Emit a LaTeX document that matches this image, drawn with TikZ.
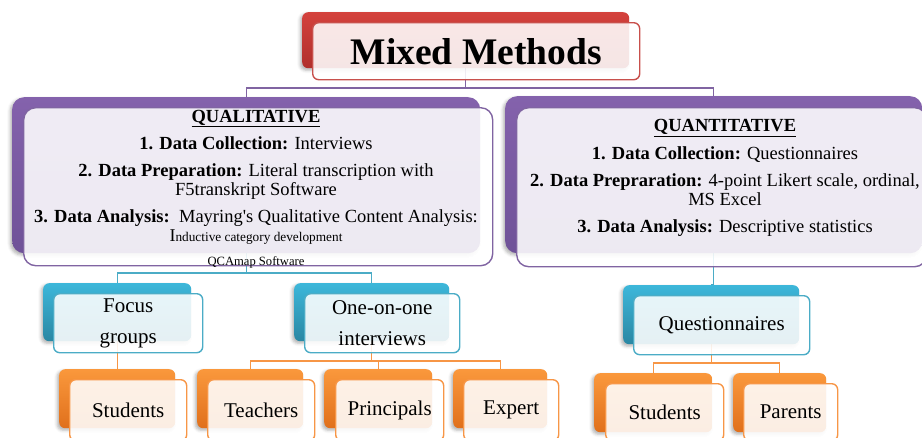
\documentclass[tikz,border=0pt]{standalone}
\usepackage{fontspec}
\setmainfont{Liberation Serif}
\usetikzlibrary{shadows.blur,backgrounds}

\definecolor{mmred}{HTML}{D4423D}
\definecolor{mmreddark}{HTML}{B0302C}
\definecolor{mmredline}{HTML}{C8504C}
\definecolor{grpurple}{HTML}{8462AC}
\definecolor{grpurpledark}{HTML}{6F5298}
\definecolor{grpurpleline}{HTML}{8064A2}
\definecolor{grcyan}{HTML}{3DB7DA}
\definecolor{grcyandark}{HTML}{2A87A3}
\definecolor{grcyanline}{HTML}{4BACC6}
\definecolor{grorange}{HTML}{FA983C}
\definecolor{grorangedark}{HTML}{E0701C}
\definecolor{grorangeline}{HTML}{F79646}

\tikzset{
  boxback/.style={anchor=north west, inner sep=0pt, rounded corners=6pt,
    blur shadow={shadow xshift=-2pt,shadow yshift=-2pt,shadow blur radius=3pt,shadow opacity=30}},
  boxfront/.style={anchor=north west, inner sep=0pt, rounded corners=6pt,
    fill=white, fill opacity=0.88, text opacity=1, line width=1.4pt, align=center},
  redback/.style={boxback, top color=mmred, bottom color=mmreddark},
  redfront/.style={boxfront, draw=mmredline},
  purpleback/.style={boxback, rounded corners=12pt, top color=grpurple, bottom color=grpurpledark},
  purplefront/.style={boxfront, rounded corners=12pt, draw=grpurpleline},
  cyanback/.style={boxback, top color=grcyan, bottom color=grcyandark},
  cyanfront/.style={boxfront, draw=grcyanline, font=\fontsize{21}{31}\selectfont},
  orangeback/.style={boxback, top color=grorange, bottom color=grorangedark},
  orangefront/.style={boxfront, draw=grorangeline, font=\fontsize{21}{31}\selectfont},
  bodytext/.style={align=center, inner sep=0pt, font=\fontsize{18.5}{19}\selectfont},
  link/.style={line width=1.4pt}
}

\begin{document}
\begin{tikzpicture}[x=1pt, y=-1pt]
  \useasboundingbox (0,0) rectangle (922,437);

  % top box
  \node[redback, minimum width=327pt, minimum height=56pt] (mmb) at (302,12) {};
  \node[redfront, minimum width=327pt, minimum height=57pt] (mm) at (312,22)
    {\fontsize{37.5}{40}\selectfont\bfseries Mixed Methods};

  % the two strands
  \node[purpleback, minimum width=468pt, minimum height=156pt] (qualb) at (12,97) {};
  \node[purplefront, minimum width=469pt, minimum height=158pt] (qual) at (23,107) {};
  \node[purpleback, minimum width=417pt, minimum height=157pt] (quantb) at (505,96) {};
  \node[purplefront, minimum width=410pt, minimum height=159pt] (quant) at (516,107) {};

  \node[bodytext] (qualtext) at (256,189) {\underline{\textbf{QUALITATIVE}}\\[8pt]
    \textbf{1. Data Collection:} Interviews\\[8pt]
    \textbf{2. Data Preparation:} Literal transcription with\\
    F5transkript Software\\[8pt]
    \textbf{3. Data Analysis:}\ \ Mayring\textquotesingle s Qualitative Content Analysis:\\
    {\fontsize{18}{19}\selectfont I}{\fontsize{13.3}{19}\selectfont nductive category development}\\[5pt]
    {\fontsize{12.6}{14}\selectfont QCAmap Software}};
  \node[bodytext] (quanttext) at (725,178) {\underline{\textbf{QUANTITATIVE}}\\[9pt]
    \textbf{1. Data Collection:} Questionnaires\\[8pt]
    \textbf{2. Data Prepraration:} 4-point Likert scale, ordinal,\\
    MS Excel\\[8pt]
    \textbf{3. Data Analysis:} Descriptive statistics};

  % data sources
  \node[cyanback, minimum width=148pt, minimum height=58pt] (focusb) at (43,283) {};
  \node[cyanfront, minimum width=149pt, minimum height=59pt] (focus) at (53,293) {Focus\\groups};
  \node[cyanback, minimum width=155pt, minimum height=58pt] (oneb) at (294,283) {};
  \node[cyanfront, minimum width=155pt, minimum height=59pt] (one) at (304,293) {One-on-one\\interviews};
  \node[cyanback, minimum width=176pt, minimum height=59pt] (questb) at (623,285) {};
  \node[cyanfront, minimum width=176pt, minimum height=59pt] (quest) at (633,295) {Questionnaires};

  % participants
  \node[orangeback, minimum width=116pt, minimum height=59pt] (stuab) at (59,369) {};
  \node[orangefront, minimum width=117pt, minimum height=61pt] (stua) at (69,379) {Students};
  \node[orangeback, minimum width=106pt, minimum height=59pt] (teachb) at (197,369) {};
  \node[orangefront, minimum width=107pt, minimum height=61pt] (teach) at (207,379) {Teachers};
  \node[orangeback, minimum width=108pt, minimum height=59pt] (princb) at (324,369) {};
  \node[orangefront, minimum width=108pt, minimum height=61pt] (princ) at (335,379) {Principals};
  \node[orangeback, minimum width=94pt, minimum height=59pt] (expb) at (453,369) {};
  \node[orangefront, minimum width=95pt, minimum height=61pt] (exp) at (463,379) {Expert};
  \node[orangeback, minimum width=118pt, minimum height=59pt] (stubb) at (594,373) {};
  \node[orangefront, minimum width=118pt, minimum height=57pt] (stub) at (605,383) {Students};
  \node[orangeback, minimum width=93pt, minimum height=59pt] (parb) at (733,373) {};
  \node[orangefront, minimum width=94pt, minimum height=57pt] (par) at (743,383) {Parents};

  % connectors
  \coordinate (mmbus) at (0,88);
  \coordinate (qualbus) at (0,273);
  \coordinate (onebus) at (0,361);
  \coordinate (questbus) at (0,363);
  \begin{scope}[on background layer]
    \draw[link, grpurpleline] (mmb.center) -- (mmb.center |- mmbus);
    \draw[link, grpurpleline] (qualb.north) -- (qualb.north |- mmbus)
      -- (quantb.north |- mmbus) -- (quantb.north);
    \draw[link, grcyanline] (qualb.center) -- (qualb.center |- qualbus);
    \draw[link, grcyanline] (focusb.north) -- (focusb.north |- qualbus)
      -- (oneb.north |- qualbus) -- (oneb.north);
    \draw[link, grcyanline] (quantb.center) -- (quantb.center |- questb.north) -- (questb.north);
    \draw[link, grorangeline] (focusb.center) -- (stuab.north);
    \draw[link, grorangeline] (oneb.center) -- (oneb.center |- onebus);
    \draw[link, grorangeline] (teachb.north) -- (teachb.north |- onebus)
      -- (expb.north |- onebus) -- (expb.north);
    \draw[link, grorangeline] (princb.north) -- (princb.north |- onebus);
    \draw[link, grorangeline] (questb.center) -- (questb.center |- questbus);
    \draw[link, grorangeline] (stubb.north) -- (stubb.north |- questbus)
      -- (parb.north |- questbus) -- (parb.north);
  \end{scope}
\end{tikzpicture}
\end{document}
